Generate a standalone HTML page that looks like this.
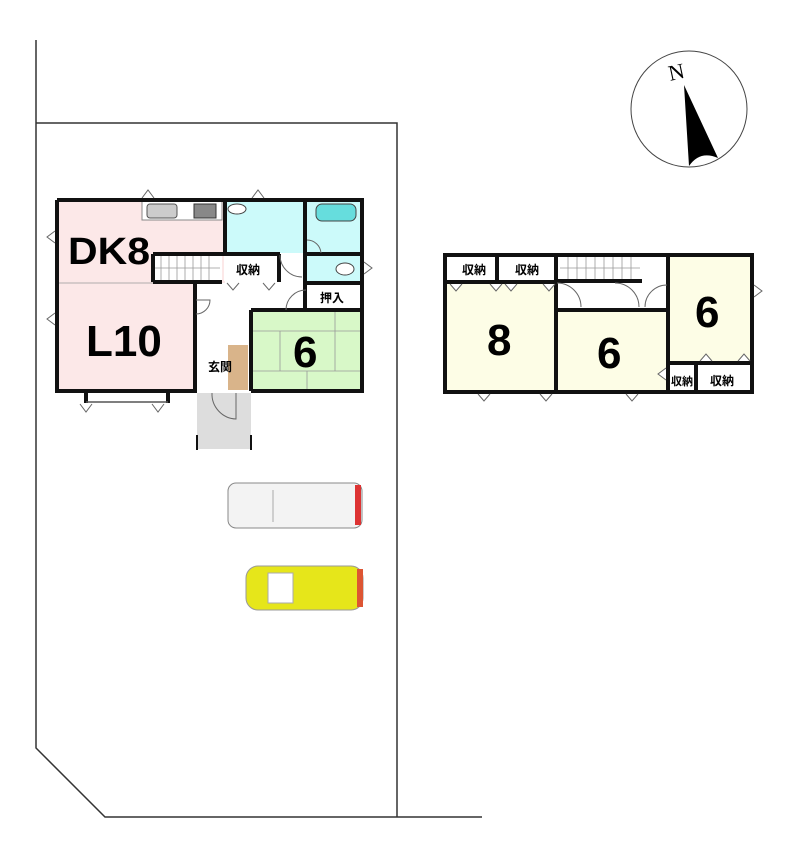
<!DOCTYPE html>
<html><head><meta charset="utf-8"><style>
html,body{margin:0;padding:0;background:#fff;}
svg{display:block}
text{font-family:"Liberation Sans","Noto Sans CJK JP",sans-serif;font-weight:bold;fill:#000}
</style></head><body>
<svg width="800" height="857" viewBox="0 0 800 857" xmlns="http://www.w3.org/2000/svg">
<g stroke="#333" stroke-width="1.5" fill="none">
<polyline points="36,40 36,748 105,817 482,817"/>
<polyline points="36,123 397,123 397,817"/>
</g>
<circle cx="689" cy="109" r="58" fill="#fff" stroke="#444" stroke-width="1"/>
<text x="668" y="79" style="font-family:'Liberation Serif',serif;font-weight:normal;font-size:22px" transform="rotate(-12 678 70)">N</text>
<path d="M684,85 L718,158 Q700,150 689,166 Z" fill="#000"/>

<g stroke="none">
<rect x="57" y="200" width="168" height="83" fill="#fce8e8"/>
<rect x="57" y="283" width="138" height="108" fill="#fce8e8"/>
<rect x="225" y="200" width="80" height="53" fill="#ccfafa"/>
<rect x="307" y="200" width="55" height="53" fill="#ccfafa"/>
<rect x="307" y="256" width="55" height="27" fill="#ccfafa"/>
<rect x="251" y="311" width="111" height="80" fill="#d8f8c8"/>
<rect x="197" y="393" width="54" height="56" fill="#ddd"/>
<rect x="228" y="345" width="20" height="45" fill="#d9b48a"/>
<rect x="153" y="256" width="69" height="25" fill="#fff"/>
<rect x="224" y="256" width="55" height="25" fill="#fff"/>
<rect x="307" y="285" width="55" height="25" fill="#fff"/>
</g>
<g stroke="#999" stroke-width="0.8">
<line x1="161" y1="256" x2="161" y2="281"/><line x1="169" y1="256" x2="169" y2="281"/><line x1="177" y1="256" x2="177" y2="281"/><line x1="185" y1="256" x2="185" y2="281"/><line x1="193" y1="256" x2="193" y2="281"/><line x1="201" y1="256" x2="201" y2="281"/><line x1="209" y1="256" x2="209" y2="281"/>
<line x1="153" y1="268" x2="220" y2="268"/>
<line x1="57" y1="283" x2="195" y2="283"/>
<line x1="251" y1="331" x2="362" y2="331"/><line x1="251" y1="371" x2="362" y2="371"/>
<line x1="280" y1="331" x2="280" y2="371"/><line x1="335" y1="311" x2="335" y2="371"/><line x1="307" y1="371" x2="307" y2="391"/>
</g>
<rect x="142" y="200" width="80" height="20" fill="#fff" stroke="#888"/>
<rect x="147" y="204" width="30" height="14" rx="3" fill="#ccc" stroke="#555"/>
<rect x="194" y="204" width="22" height="14" fill="#888" stroke="#333"/>
<rect x="316" y="204" width="40" height="17" rx="6" fill="#6dd" stroke="#444"/>
<ellipse cx="237" cy="209" rx="9" ry="5" fill="#fff" stroke="#444"/>
<ellipse cx="345" cy="269" rx="9" ry="6" fill="#fff" stroke="#444"/>
<g stroke="#111" stroke-width="4" fill="none">
<polyline points="57,200 362,200 362,391 251,391"/>
<polyline points="57,200 57,391 197,391"/>
<line x1="195" y1="283" x2="195" y2="391"/>
<line x1="225" y1="200" x2="225" y2="253"/>
<line x1="153" y1="254" x2="280" y2="254"/>
<line x1="305" y1="200" x2="305" y2="283"/>
<line x1="305" y1="254" x2="362" y2="254"/>
<line x1="279" y1="254" x2="279" y2="282"/>
<line x1="153" y1="254" x2="153" y2="282"/>
<line x1="153" y1="282" x2="222" y2="282"/>
<line x1="305" y1="283" x2="362" y2="283"/>
<line x1="305" y1="283" x2="305" y2="310"/>
<line x1="251" y1="310" x2="362" y2="310"/>
<line x1="251" y1="310" x2="251" y2="391"/>
<line x1="86" y1="391" x2="86" y2="403"/><line x1="168" y1="391" x2="168" y2="403"/>
</g>
<g stroke="#111" stroke-width="2">
<line x1="197" y1="435" x2="197" y2="450"/><line x1="251" y1="435" x2="251" y2="450"/>
</g>
<line x1="86" y1="402" x2="168" y2="402" stroke="#555" stroke-width="1.5"/>
<g stroke="#666" stroke-width="1" fill="#fff">
<path d="M142,198 L148,190 L154,198"/><path d="M252,198 L258,190 L264,198"/>
<path d="M55,231 L47,237 L55,243"/><path d="M55,313 L47,319 L55,325"/>
<path d="M364,262 L372,268 L364,274"/>
<path d="M80,404 L86,412 L92,404"/><path d="M152,404 L158,412 L164,404"/>
<path d="M227,283 L233,290 L239,283"/><path d="M263,283 L269,290 L275,283"/>
</g>
<g stroke="#666" stroke-width="1" fill="none">
<path d="M196,300 L210,300 A14,14 0 0 1 196,314"/>
<path d="M212,393 A25,25 0 0 0 236,419 L236,393"/>
<path d="M306,290 A20,20 0 0 0 286,310"/>
<path d="M280,255 A22,22 0 0 0 302,277"/>
<path d="M307,240 A14,14 0 0 1 321,253"/>
</g>
<text x="68" y="264" font-size="38" textLength="82" lengthAdjust="spacingAndGlyphs">DK8</text>
<text x="86" y="356" font-size="44">L10</text>
<text x="293" y="367" font-size="44">6</text>
<text x="236" y="274" font-size="12">収納</text>
<text x="320" y="302" font-size="12">押入</text>
<text x="208" y="371" font-size="12">玄関</text>

<g stroke="none">
<rect x="447" y="283" width="109" height="109" fill="#fdfde6"/>
<rect x="557" y="311" width="111" height="81" fill="#fdfde6"/>
<rect x="670" y="257" width="80" height="106" fill="#fdfde6"/>
</g>
<g stroke="#999" stroke-width="0.8">
<line x1="568" y1="257" x2="568" y2="281"/><line x1="577" y1="257" x2="577" y2="281"/><line x1="586" y1="257" x2="586" y2="281"/><line x1="595" y1="257" x2="595" y2="281"/><line x1="604" y1="257" x2="604" y2="281"/><line x1="613" y1="257" x2="613" y2="281"/><line x1="622" y1="257" x2="622" y2="281"/><line x1="631" y1="257" x2="631" y2="281"/>
<line x1="560" y1="268" x2="640" y2="268"/>
</g>
<g stroke="#111" stroke-width="4" fill="none">
<rect x="445" y="255" width="307" height="137"/>
<line x1="497" y1="255" x2="497" y2="282"/>
<line x1="445" y1="282" x2="556" y2="282"/>
<line x1="556" y1="255" x2="556" y2="392"/>
<line x1="556" y1="281" x2="642" y2="281"/>
<line x1="556" y1="310" x2="668" y2="310"/>
<line x1="668" y1="255" x2="668" y2="392"/>
<line x1="668" y1="363" x2="752" y2="363"/>
<line x1="696" y1="363" x2="696" y2="392"/>
</g>
<g stroke="#666" stroke-width="1" fill="#fff">
<path d="M450,284 L456,291 L462,284"/><path d="M490,284 L496,291 L502,284"/><path d="M505,284 L511,291 L517,284"/><path d="M543,284 L549,291 L555,284"/>
<path d="M478,394 L484,401 L490,394"/><path d="M540,394 L546,401 L552,394"/><path d="M626,394 L632,401 L638,394"/>
<path d="M754,285 L762,291 L754,297"/>
<path d="M666,368 L658,374 L666,380"/>
<path d="M700,361 L706,354 L712,361"/><path d="M738,361 L744,354 L750,361"/>
</g>
<g stroke="#666" stroke-width="1" fill="none">
<path d="M557,283 A24,24 0 0 1 581,307"/>
<path d="M615,283 A24,24 0 0 1 639,307"/>
<path d="M667,285 A22,22 0 0 0 645,307"/>
</g>
<text x="462" y="274" font-size="12">収納</text>
<text x="515" y="274" font-size="12">収納</text>
<text x="671" y="385" font-size="11">収納</text>
<text x="710" y="385" font-size="12">収納</text>
<text x="487" y="355" font-size="44">8</text>
<text x="597" y="368" font-size="44">6</text>
<text x="695" y="327" font-size="44">6</text>

<rect x="228" y="483" width="134" height="45" rx="8" fill="#f3f3f3" stroke="#888"/>
<line x1="273" y1="490" x2="273" y2="522" stroke="#aaa"/>
<rect x="355" y="485" width="6" height="40" fill="#d33"/>
<rect x="246" y="566" width="117" height="44" rx="12" fill="#e6e61a" stroke="#999"/>
<rect x="268" y="573" width="25" height="30" fill="#fff" stroke="#aaa"/>
<rect x="357" y="569" width="6" height="38" fill="#d53"/>
</svg>
</body></html>
